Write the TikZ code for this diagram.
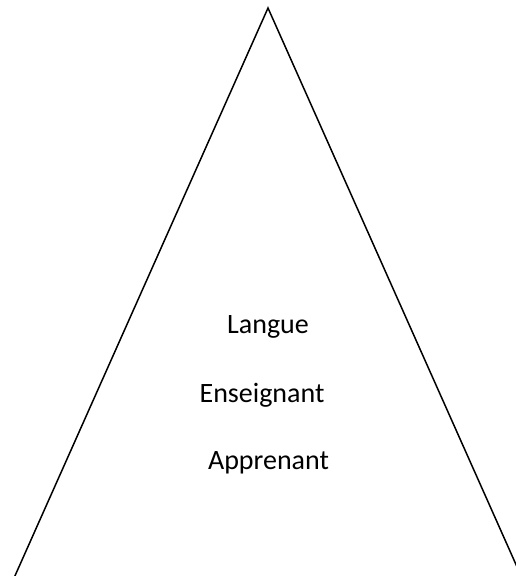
\documentclass[tikz,border=0pt]{standalone}
\usepackage{fontspec}
\setmainfont{Carlito}
\begin{document}
\begin{tikzpicture}[x=1pt,y=-1pt]
	\tikzstyle{every node}+=[inner sep=0pt]
	\tikzstyle{label}=[anchor=base,font=\fontsize{28}{32}\selectfont]
	\useasboundingbox (0,0) rectangle (515,576);
	\coordinate (top) at (268,8);
	\coordinate (left) at (14,578);
	\coordinate (right) at (522,578);
	\draw [black,line width=1.5pt,line join=miter] (left) -- (top) -- (right);
	\node [label] (langue) at (268,333) {Langue};
	\node [label] (enseignant) at (262,402) {Enseignant};
	\node [label] (apprenant) at (268.5,469) {Apprenant};
\end{tikzpicture}
\end{document}
